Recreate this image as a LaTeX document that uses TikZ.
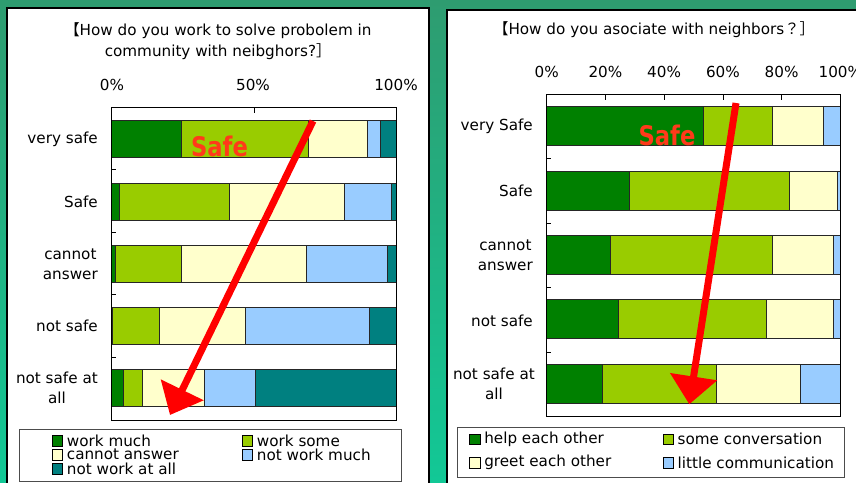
\documentclass[tikz,border=0pt]{standalone}
\usepackage{fontspec}
\setmainfont{DejaVu Sans}
\newfontfamily\cjk{Noto Sans CJK JP}
\usetikzlibrary{positioning, arrows.meta}

\definecolor{workmuch}{HTML}{008000}
\definecolor{worksome}{HTML}{99CC00}
\definecolor{noanswer}{HTML}{FFFFCC}
\definecolor{worklittle}{HTML}{99CCFF}
\definecolor{worknone}{HTML}{008080}
\definecolor{bgtop}{RGB}{46,156,112}
\definecolor{bgbottom}{RGB}{18,200,150}
\definecolor{safered}{HTML}{FF3A1A}

\begin{document}
\begin{tikzpicture}[x=1pt, y={(0pt,-1pt)},
    panel/.style={fill=white, draw=black, line width=1.2pt},
    seg/.style={draw=black!85, line width=0.5pt},
    frame/.style={draw=black, line width=0.7pt},
    txt/.style={inner sep=0pt, font=\fontsize{15.2}{20}\selectfont},
    catlabel/.style={txt, anchor=east, align=center},
    legkey/.style={draw=black, line width=0.5pt, minimum size=10.5pt, inner sep=0pt},
    legtext/.style={txt, anchor=west, font=\fontsize{15.2}{15}\selectfont},
    bigarrow/.style={draw=red, line width=7pt, -{Triangle[length=28pt, width=46pt]}},
    safetext/.style={text=safered, inner sep=0pt, xscale=0.84, font=\fontsize{27}{27}\selectfont\bfseries}]

    \useasboundingbox (0,0) rectangle (856,482);
    \clip (0,0) rectangle (856,482);
    \shade[top color=bgtop, bottom color=bgbottom] (0,0) rectangle (856,482);

    % left panel
    \draw[panel] (7,8) rectangle (429,495);
    \node[txt, align=center, font=\fontsize{15.2}{21}\selectfont] (ltitle) at (218,41.5)
        {{\cjk 【}How do you work to solve probolem in\\community with neibghors?{\cjk ］}};

    \node[txt] (lp0)   at (112,85) {0\%};
    \node[txt] (lp50)  at (253,85) {50\%};
    \node[txt] (lp100) at (396,85) {100\%};

    \begin{scope}[shift={(111.7,0)}, x=2.843pt]
        \foreach \yc/\a/\b/\c/\d in {139.2/24.3/69.2/90.0/94.4, 201.4/2.6/41.5/81.8/98.5,
                264/1.2/24.3/68.6/97.0, 326/0.3/16.9/47.1/90.6, 388.2/4.1/10.7/32.4/50.6} {
            \draw[seg, fill=workmuch]   (0,\yc-18.5)  rectangle (\a,\yc+18.5);
            \draw[seg, fill=worksome]   (\a,\yc-18.5) rectangle (\b,\yc+18.5);
            \draw[seg, fill=noanswer]   (\b,\yc-18.5) rectangle (\c,\yc+18.5);
            \draw[seg, fill=worklittle] (\c,\yc-18.5) rectangle (\d,\yc+18.5);
            \draw[seg, fill=worknone]   (\d,\yc-18.5) rectangle (100,\yc+18.5);
        }
        \draw[frame] (0,107) rectangle (100,420);
        \draw[frame] (50,107) -- (50,113);
        \foreach \t in {169.6, 232.2, 294.8, 357.4}
            \draw[frame] (0,\t) -- (1.5,\t);
    \end{scope}

    \node[catlabel] (lvsafe)   at (98,139.2) {very safe};
    \node[catlabel] (lsafe)    at (98,201.4) {Safe};
    \node[catlabel] (lcannot)  at (98,264)   {cannot\\answer};
    \node[catlabel] (lnotsafe) at (98,326)   {not safe};
    \node[catlabel] (lnotall)  at (98,388.2) {not safe at\\all};

    \node[safetext] (lsafeword) at (219.5,146.7) {Safe};
    \coordinate (lfrom) at (313,121);
    \coordinate (lto)   at (170,415);
    \draw[bigarrow] (lfrom) -- (lto);

    \draw[frame, draw=black!70] (19,429.3) rectangle (401,481);
    \node[legkey, fill=workmuch]   (lkmuch)   at (57.2,440.5) {};
    \node[legkey, fill=worksome]   (lksome)   at (247.2,440.5) {};
    \node[legkey, fill=noanswer]   (lkanswer) at (57.2,454.5) {};
    \node[legkey, fill=worklittle] (lklittle) at (247.2,454.5) {};
    \node[legkey, fill=worknone]   (lknone)   at (57.2,468.5) {};
    \node[legtext, right=4pt of lkmuch]   (ltmuch)   {work much};
    \node[legtext, right=4pt of lksome]   (ltsome)   {work some};
    \node[legtext, right=4pt of lkanswer] (ltanswer) {cannot answer};
    \node[legtext, right=4pt of lklittle] (ltlittle) {not work much};
    \node[legtext, right=4pt of lknone]   (ltnone)   {not work at all};

    % right panel
    \draw[panel] (447,10) rectangle (880,495);
    \node[txt] (rtitle) at (654,29.3) {{\cjk 【}How do you asociate with neighbors{\cjk ？］}};

    \node[txt] (rp0)   at (546.7,71.7) {0\%};
    \node[txt] (rp20)  at (605.4,71.7) {20\%};
    \node[txt] (rp40)  at (664.1,71.7) {40\%};
    \node[txt] (rp60)  at (722.9,71.7) {60\%};
    \node[txt] (rp80)  at (781.6,71.7) {80\%};
    \node[txt] (rp100) at (840.3,71.7) {100\%};

    \begin{scope}[shift={(546.7,0)}, x=2.936pt]
        \foreach \yc/\a/\b/\c in {126.2/53.3/76.8/94.3, 190.5/28.1/82.5/99.0,
                254.7/21.8/76.7/97.5, 319.2/24.3/74.9/97.6, 383.8/19.0/57.8/86.5} {
            \draw[seg, fill=workmuch]   (0,\yc-19.5)  rectangle (\a,\yc+19.5);
            \draw[seg, fill=worksome]   (\a,\yc-19.5) rectangle (\b,\yc+19.5);
            \draw[seg, fill=noanswer]   (\b,\yc-19.5) rectangle (\c,\yc+19.5);
            \draw[seg, fill=worklittle] (\c,\yc-19.5) rectangle (100,\yc+19.5);
        }
        \draw[frame] (0,94.3) rectangle (100,416.7);
        \foreach \p in {20, 40, 60, 80}
            \draw[frame] (\p,94.3) -- (\p,99.5);
        \foreach \t in {158.8, 223.3, 287.8, 352.2}
            \draw[frame] (0,\t) -- (1.4,\t);
    \end{scope}

    \node[catlabel] (rvsafe)   at (533,126.2) {very Safe};
    \node[catlabel] (rsafe)    at (533,190.5) {Safe};
    \node[catlabel] (rcannot)  at (533,255.5) {cannot\\answer};
    \node[catlabel] (rnotsafe) at (533,320.5) {not safe};
    \node[catlabel] (rnotall)  at (535,383.5) {not safe at\\all};

    \node[safetext] (rsafeword) at (667,135) {Safe};
    \coordinate (rfrom) at (736,103);
    \coordinate (rto)   at (689.3,404.3);
    \draw[bigarrow] (rfrom) -- (rto);

    \draw[frame, draw=black!70] (457.3,427.3) rectangle (844.3,477.3);
    \node[legkey, fill=workmuch]   (rkhelp)   at (474.6,439.3) {};
    \node[legkey, fill=worksome]   (rktalk)   at (668,439.3) {};
    \node[legkey, fill=noanswer]   (rkgreet)  at (474.6,462.7) {};
    \node[legkey, fill=worklittle] (rklittle) at (668,462.7) {};
    \node[legtext, right=4pt of rkhelp]   (rthelp)   {help each other};
    \node[legtext, right=4pt of rktalk]   (rttalk)   {some conversation};
    \node[legtext, right=4pt of rkgreet]  (rtgreet)  {greet each other};
    \node[legtext, right=4pt of rklittle] (rtlittle) {little communication};
\end{tikzpicture}
\end{document}
